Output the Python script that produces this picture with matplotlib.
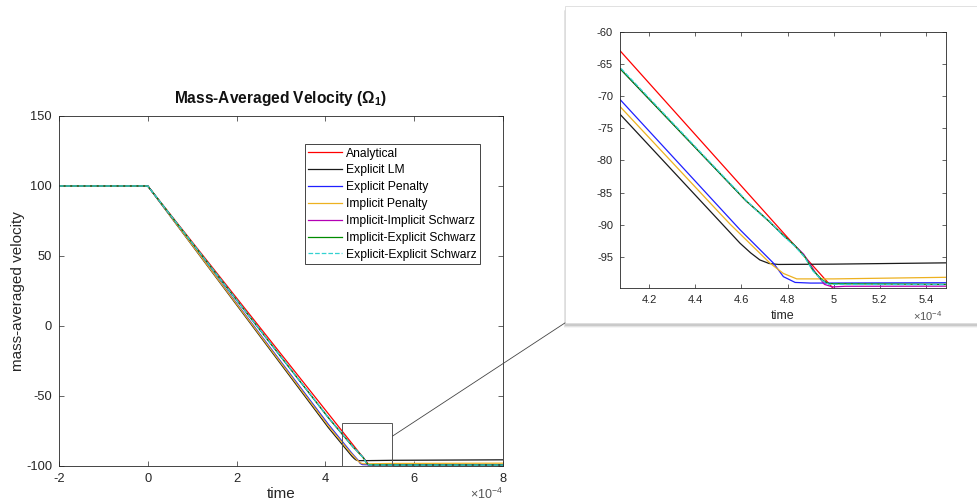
import matplotlib.pyplot as plt
from matplotlib.patches import Rectangle, ConnectionPatch
from matplotlib.ticker import FuncFormatter

plt.rcParams['font.family'] = ['Liberation Sans', 'DejaVu Sans']
plt.rcParams['axes.unicode_minus'] = False
plt.rcParams['mathtext.default'] = 'regular'

# time values are in units of 1e-4 s
T_UNIT = 1e-4

labels = ['Analytical', 'Explicit LM', 'Explicit Penalty', 'Implicit Penalty',
          'Implicit-Implicit Schwarz', 'Implicit-Explicit Schwarz', 'Explicit-Explicit Schwarz']
colors = ['#ff0000', '#1a1a1a', '#1f1fff', '#edb120', '#b400b4', '#008c00', '#33d1d1']
styles = ['-', '-', '-', '-', '-', '-', '--']

t_analytical = [-2, 0, 5.0, 8]
v_analytical = [100, 100, -100, -100]

t_lm = [-2, 0, 4.07, 4.594, 4.64, 4.68, 4.72, 4.76, 5.0, 5.49, 8]
v_lm = [100, 100, -72.7, -92.9, -94.4, -95.5, -96.05, -96.2, -96.15, -95.95, -95.6]

t_exp_pen = [-2, 0, 4.07, 4.594, 4.739, 4.782, 4.833, 4.9, 5.49, 8]
v_exp_pen = [100, 100, -70.4, -90.8, -96.0, -98.1, -99.0, -99.1, -99.05, -99.0]

t_imp_pen = [-2, 0, 4.07, 4.5, 4.55, 4.724, 4.782, 4.84, 5.0, 5.49, 8]
v_imp_pen = [100, 100, -71.5, -88.0, -89.9, -96.0, -97.6, -98.45, -98.45, -98.2, -98.0]

t_ii = [-2, 0, 4.07, 4.62, 4.68, 4.72, 4.78, 4.83, 4.87, 4.92, 4.96, 4.995, 5.05, 8]
v_ii = [100, 100, -65.6, -86.3, -88.2, -89.5, -91.6, -93.2, -94.6, -97.4, -99.3, -99.7, -99.6, -99.5]

t_ie = [-2, 0, 4.07, 4.62, 4.68, 4.72, 4.78, 4.83, 4.875, 4.91, 4.95, 4.98, 5.49, 8]
v_ie = [100, 100, -65.6, -86.3, -88.2, -89.5, -91.6, -93.2, -95.0, -97.1, -98.6, -99.2, -99.3, -99.3]

t_ee = [-2, 0, 4.07, 4.62, 4.68, 4.72, 4.78, 4.83, 4.875, 4.91, 4.95, 4.98, 5.49, 8]
v_ee = [100, 100, -65.4, -86.2, -88.3, -89.4, -91.7, -93.3, -95.1, -97.2, -98.7, -99.3, -99.35, -99.35]

series_t = [t_analytical, t_lm, t_exp_pen, t_imp_pen, t_ii, t_ie, t_ee]
series_v = [v_analytical, v_lm, v_exp_pen, v_imp_pen, v_ii, v_ie, v_ee]

main_xticks = [-2, 0, 2, 4, 6, 8]
main_yticks = [-100, -50, 0, 50, 100, 150]
inset_xticks = [4.2, 4.4, 4.6, 4.8, 5.0, 5.2, 5.4]
inset_yticks = [-95, -90, -85, -80, -75, -70, -65, -60]

TXT = '#262626'


def fmt_time(x, pos):
    return f'{x / T_UNIT:g}'


def style_axes(ax, labelsize, ticklen):
    ax.tick_params(direction='in', top=True, right=True, length=ticklen, width=0.5,
                   colors=TXT, labelsize=labelsize, pad=5)
    for s in ax.spines.values():
        s.set_color(TXT)
        s.set_linewidth(0.6)
    ax.xaxis.set_major_formatter(FuncFormatter(fmt_time))


fig = plt.figure(figsize=(9.78, 5.03), dpi=100)

# main axes
ax = fig.add_axes([0.0603, 0.0736, 0.454, 0.6958])
for t, v, c, ls, lab in zip(series_t, series_v, colors, styles, labels):
    ax.plot([x * T_UNIT for x in t], v, color=c, linestyle=ls, lw=0.9, label=lab)
ax.set_xlim(-2 * T_UNIT, 8 * T_UNIT)
ax.set_ylim(-100, 150)
ax.set_xticks([x * T_UNIT for x in main_xticks])
ax.set_yticks(main_yticks)
style_axes(ax, 9.3, 3.5)
ax.set_xlabel('time', fontsize=11, color=TXT, labelpad=1.5)
ax.set_ylabel('mass-averaged velocity', fontsize=11, color=TXT, labelpad=1)
ax.set_title(r'Mass-Averaged Velocity ($\Omega_1$)', fontsize=11.2, fontweight='bold',
             color='#111111', pad=9)
ax.text(1.0, -0.08, '×10$^{-4}$', transform=ax.transAxes, ha='right', va='center',
        fontsize=9, color='#555555')
leg = ax.legend(loc='upper right', bbox_to_anchor=(0.948, 0.92), borderaxespad=0,
                fontsize=8.7, handlelength=2.8, handletextpad=0.3, labelspacing=0.4,
                borderpad=0.3, fancybox=False, framealpha=1, edgecolor=TXT)
leg.get_frame().set_linewidth(0.6)

# zoom box on the main axes
ax.add_patch(Rectangle((4.38 * T_UNIT, -100), 1.13 * T_UNIT, 30.5, fill=False,
                       edgecolor='#555555', lw=0.7, clip_on=False, zorder=5))

# inset panel with a soft shadow (mostly along the bottom)
for dx, dy, a in [(-1, -5, 0.08), (-1, -4, 0.15), (0, -3, 0.25)]:
    fig.add_artist(Rectangle((0.5777 + dx / 978, 0.358 + dy / 503), 0.43, 0.63,
                             transform=fig.transFigure, facecolor='#808080', alpha=a,
                             edgecolor='none', zorder=-3))
fig.add_artist(Rectangle((0.5777, 0.358), 0.43, 0.63, transform=fig.transFigure,
                         facecolor='white', edgecolor='#dcdcdc', lw=0.6, zorder=-2))

# inset axes
axi = fig.add_axes([0.634, 0.4274, 0.3333, 0.509])
for t, v, c, ls in zip(series_t, series_v, colors, styles):
    axi.plot([x * T_UNIT for x in t], v, color=c, linestyle=ls, lw=0.9)
axi.set_xlim(4.073 * T_UNIT, 5.488 * T_UNIT)
axi.set_ylim(-99.87, -60)
axi.set_xticks([x * T_UNIT for x in inset_xticks])
axi.set_yticks(inset_yticks)
style_axes(axi, 8, 3)
axi.set_xlabel('time', fontsize=9, color=TXT, labelpad=3.5)
axi.text(0.99, -0.11, '×10$^{-4}$', transform=axi.transAxes, ha='right', va='center',
         fontsize=8, color='#555555')

# connector from zoom box to inset panel
con = ConnectionPatch(xyA=(5.51 * T_UNIT, -78.7), coordsA=ax.transData,
                      xyB=(0.5777, 0.358), coordsB=fig.transFigure,
                      color='#444444', lw=0.6)
fig.add_artist(con)

fig.savefig('out.png', dpi=100)
